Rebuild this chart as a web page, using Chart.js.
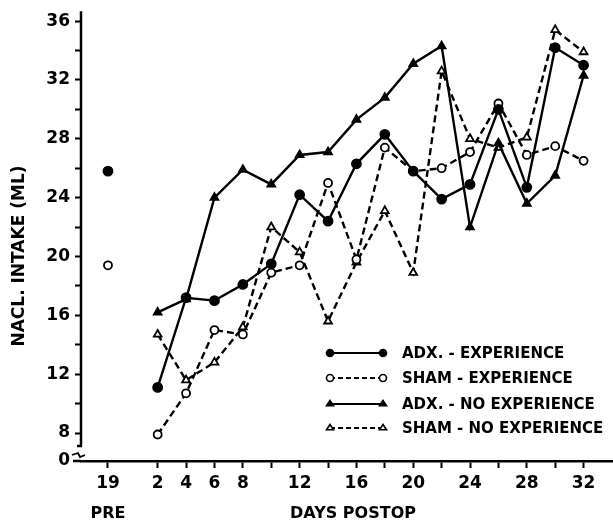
<!DOCTYPE html>
<html>
<head>
<meta charset="utf-8">
<script src="https://cdn.jsdelivr.net/npm/chart.js@4"></script>
<style>
  html, body { margin: 0; padding: 0; background: #fff; }
  #wrap { width: 613px; height: 522px; }
</style>
</head>
<body>
<div id="wrap"><canvas id="chart" width="613" height="522"></canvas></div>
<script>
// days postop, one value per series per day
const days = [2, 4, 6, 8, 10, 12, 14, 16, 18, 20, 22, 24, 26, 28, 30, 32];
const preDay = -1.5; // x position of the PRE column (day 19)
const preLabel = '19';
const labelledDays = [2, 4, 6, 8, 12, 16, 20, 24, 28, 32];
const yLabels = [8, 12, 16, 20, 24, 28, 32, 36];
const yBreak = 6.1; // bottom of the broken axis, labelled 0

const adxExpPre = 25.8;
const shamExpPre = 19.4;
const adxExp    = [11.1, 17.2, 17.0, 18.1, 19.5, 24.2, 22.4, 26.3, 28.3, 25.8, 23.9, 24.9, 30.0, 24.7, 34.2, 33.0];
const shamExp   = [7.9, 10.7, 15.0, 14.7, 18.9, 19.4, 25.0, 19.8, 27.4, 25.8, 26.0, 27.1, 30.4, 26.9, 27.5, 26.5];
const adxNoExp  = [16.2, 17.1, 24.0, 25.9, 24.9, 26.9, 27.1, 29.3, 30.8, 33.1, 34.3, 22.0, 27.7, 23.6, 25.5, 32.3];
const shamNoExp = [14.7, 11.6, 12.8, 15.2, 22.0, 20.3, 15.6, 19.6, 23.1, 18.9, 32.6, 28.0, 27.4, 28.1, 35.4, 33.9];

const legendNames = ['ADX. - EXPERIENCE', 'SHAM - EXPERIENCE', 'ADX. - NO EXPERIENCE', 'SHAM - NO EXPERIENCE'];

const FONT = '"DejaVu Sans", sans-serif';
const DASH = [7, 4];

function series(pre, vals) {
  const pts = [];
  if (pre !== null) {
    pts.push({ x: preDay, y: pre });
    pts.push({ x: 0, y: null }); // break the line between PRE and day 2
  }
  days.forEach((d, i) => pts.push({ x: d, y: vals[i] }));
  return pts;
}

const styles = [
  { dash: [], shape: 'circle', fill: '#000', r: 4.5 },
  { dash: DASH, shape: 'circle', fill: '#fff', r: 4 },
  { dash: [], shape: 'triangle', fill: '#000', r: 4.5 },
  { dash: DASH, shape: 'triangle', fill: '#fff', r: 4.5 }
];

const allData = [series(adxExpPre, adxExp), series(shamExpPre, shamExp), series(null, adxNoExp), series(null, shamNoExp)];

const datasets = allData.map((d, i) => ({
  label: legendNames[i],
  data: d,
  borderColor: '#000',
  borderWidth: 2.4,
  borderDash: styles[i].dash,
  pointStyle: styles[i].shape,
  pointRadius: styles[i].r,
  pointBackgroundColor: styles[i].fill,
  pointBorderColor: '#000',
  pointBorderWidth: 1.8,
  tension: 0,
  spanGaps: false
}));

function marker(ctx, shape, fill, x, y, r) {
  ctx.save();
  ctx.setLineDash([]);
  ctx.beginPath();
  if (shape === 'circle') {
    ctx.arc(x, y, r, 0, Math.PI * 2);
  } else {
    const h = r * 1.5;
    ctx.moveTo(x, y - h * 0.66);
    ctx.lineTo(x + r, y + h * 0.34);
    ctx.lineTo(x - r, y + h * 0.34);
    ctx.closePath();
  }
  ctx.fillStyle = fill;
  ctx.fill();
  ctx.lineWidth = 1.6;
  ctx.strokeStyle = '#000';
  ctx.stroke();
  ctx.restore();
}

const decor = {
  id: 'decor',
  afterDraw(chart) {
    const ctx = chart.ctx;
    const a = chart.chartArea;
    ctx.save();
    ctx.strokeStyle = '#000';
    ctx.fillStyle = '#000';

    // y axis line, stopping above the break
    ctx.lineWidth = 2.5;
    ctx.beginPath();
    ctx.moveTo(a.left, a.top - 4);
    ctx.lineTo(a.left, 446);
    ctx.stroke();
    ctx.beginPath();
    ctx.moveTo(a.left - 4, 446);
    ctx.lineTo(a.left + 1, 446);
    ctx.stroke();

    // x axis stub left of the y axis
    ctx.beginPath();
    ctx.moveTo(73, a.bottom);
    ctx.lineTo(a.left, a.bottom);
    ctx.stroke();

    // break mark
    ctx.lineWidth = 1.8;
    ctx.beginPath();
    ctx.moveTo(72, 455);
    ctx.lineTo(78, 453);
    ctx.lineTo(80, 457);
    ctx.lineTo(85, 455);
    ctx.stroke();

    // axis titles
    ctx.font = 'bold 16px ' + FONT;
    ctx.textAlign = 'center';
    ctx.textBaseline = 'middle';
    ctx.fillText('PRE', chart.scales.x.getPixelForValue(preDay), 514);
    ctx.fillText('DAYS POSTOP', 353, 514);

    ctx.save();
    ctx.translate(20, 256);
    ctx.rotate(-Math.PI / 2);
    ctx.font = 'bold 17px ' + FONT;
    ctx.fillText('NACL. INTAKE (ML)', 0, 0);
    ctx.restore();

    // legend
    const rows = [353, 378, 404, 428];
    ctx.font = 'bold 15px ' + FONT;
    ctx.textAlign = 'left';
    rows.forEach((ry, i) => {
      const s = styles[i];
      ctx.lineWidth = 2.2;
      ctx.setLineDash(s.dash.length ? [5, 3] : []);
      ctx.beginPath();
      ctx.moveTo(330, ry);
      ctx.lineTo(383, ry);
      ctx.stroke();
      ctx.setLineDash([]);
      marker(ctx, s.shape, s.fill, 330, ry, 3.5);
      marker(ctx, s.shape, s.fill, 383, ry, 3.5);
      ctx.fillText(legendNames[i], 402, ry + 1);
    });
    ctx.restore();
  }
};

new Chart(document.getElementById('chart'), {
  type: 'line',
  data: { datasets: datasets },
  options: {
    responsive: false,
    animation: false,
    layout: { autoPadding: false, padding: { top: 14, right: 1, left: 0, bottom: 0 } },
    plugins: { legend: { display: false }, tooltip: { enabled: false } },
    scales: {
      x: {
        type: 'linear',
        min: -3.4,
        max: 34,
        afterFit(scale) { scale.height = 61; },
        afterBuildTicks(scale) {
          scale.ticks = [{ value: preDay }].concat(days.map(d => ({ value: d })));
        },
        ticks: {
          autoSkip: false,
          maxRotation: 0,
          padding: 5,
          color: '#000',
          font: { family: FONT, size: 17, weight: 'bold' },
          callback(v) {
            if (v === preDay) return preLabel;
            return labelledDays.includes(v) ? String(v) : '';
          }
        },
        grid: { drawOnChartArea: false, drawTicks: true, tickLength: 7, tickWidth: 2, tickColor: '#000' },
        border: { display: true, color: '#000', width: 2.5 }
      },
      y: {
        type: 'linear',
        min: yBreak,
        max: 36.4,
        afterFit(scale) { scale.width = 81; },
        afterBuildTicks(scale) {
          const t = [{ value: yBreak }];
          for (let v = 8; v <= 36; v += 2) t.push({ value: v });
          scale.ticks = t;
        },
        ticks: {
          autoSkip: false,
          padding: 5,
          color: '#000',
          font: { family: FONT, size: 17, weight: 'bold' },
          callback(v) {
            if (v === yBreak) return '0';
            return yLabels.includes(v) ? String(v) : '';
          }
        },
        grid: {
          drawOnChartArea: false,
          drawTicks: true,
          tickLength: 6,
          tickWidth: 2,
          tickColor: ctx => (ctx.tick && ctx.tick.value === yBreak ? 'rgba(0,0,0,0)' : '#000')
        },
        border: { display: false }
      }
    }
  },
  plugins: [decor]
});
</script>
</body>
</html>
